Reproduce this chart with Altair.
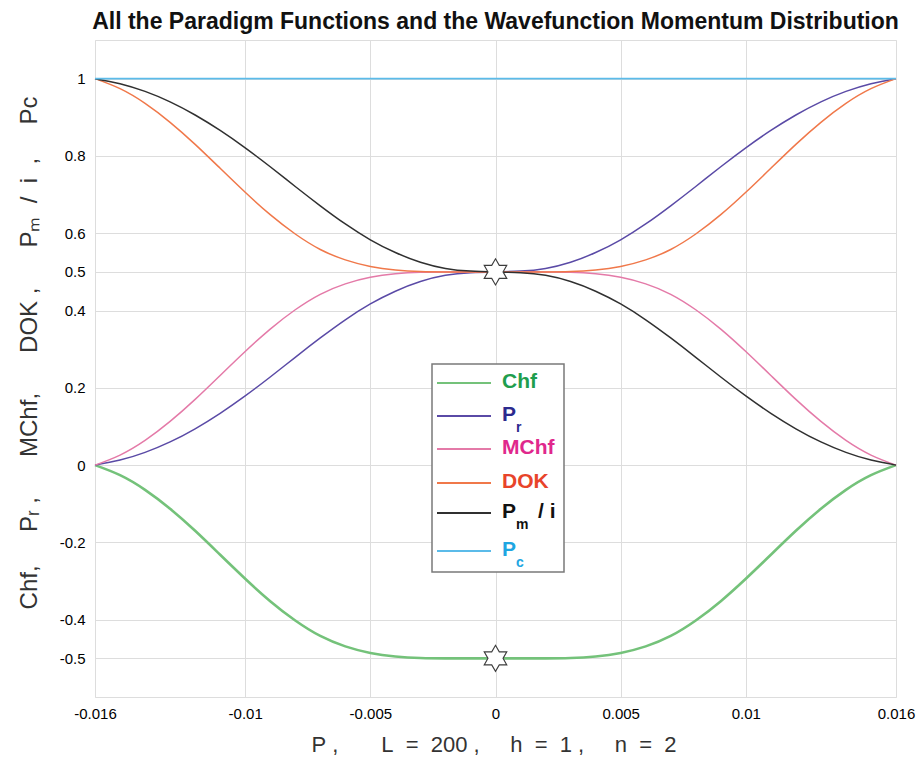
import altair as alt
import pandas as pd

# ---------------- data ----------------
p = [-0.016, -0.015, -0.014, -0.013, -0.012, -0.011, -0.010, -0.009, -0.008,
     -0.007, -0.006, -0.005, -0.004, -0.003, -0.002, -0.001, 0.0,
     0.001, 0.002, 0.003, 0.004, 0.005, 0.006, 0.007, 0.008,
     0.009, 0.010, 0.011, 0.012, 0.013, 0.014, 0.015, 0.016]

Pr = [0.0, 0.013, 0.033, 0.060, 0.094, 0.134, 0.179, 0.228, 0.279,
      0.329, 0.376, 0.417, 0.450, 0.475, 0.491, 0.498, 0.5,
      0.502, 0.509, 0.525, 0.550, 0.583, 0.624, 0.671, 0.721,
      0.772, 0.821, 0.866, 0.906, 0.940, 0.967, 0.987, 1.0]

Pm_i = [1.0, 0.987, 0.967, 0.940, 0.906, 0.866, 0.821, 0.772, 0.721,
        0.671, 0.624, 0.583, 0.550, 0.525, 0.509, 0.502, 0.5,
        0.498, 0.491, 0.475, 0.450, 0.417, 0.376, 0.329, 0.279,
        0.228, 0.179, 0.134, 0.094, 0.060, 0.033, 0.013, 0.0]

MChf = [0.0, 0.026, 0.064, 0.113, 0.170, 0.232, 0.294, 0.352, 0.402,
        0.442, 0.469, 0.486, 0.495, 0.499, 0.5, 0.5, 0.5,
        0.5, 0.5, 0.499, 0.495, 0.486, 0.469, 0.442, 0.402,
        0.352, 0.294, 0.232, 0.170, 0.113, 0.064, 0.026, 0.0]

Chf = [0.0, -0.026, -0.064, -0.113, -0.170, -0.232, -0.294, -0.352, -0.402,
       -0.442, -0.469, -0.486, -0.495, -0.499, -0.5, -0.5, -0.5,
       -0.5, -0.5, -0.499, -0.495, -0.486, -0.469, -0.442, -0.402,
       -0.352, -0.294, -0.232, -0.170, -0.113, -0.064, -0.026, 0.0]

DOK = [1.0, 0.974, 0.936, 0.887, 0.830, 0.768, 0.706, 0.648, 0.598,
       0.558, 0.531, 0.514, 0.505, 0.501, 0.5, 0.5, 0.5,
       0.5, 0.5, 0.501, 0.505, 0.514, 0.531, 0.558, 0.598,
       0.648, 0.706, 0.768, 0.830, 0.887, 0.936, 0.974, 1.0]

Pc = [1.0, 1.0, 1.0, 1.0, 1.0, 1.0, 1.0, 1.0, 1.0,
      1.0, 1.0, 1.0, 1.0, 1.0, 1.0, 1.0, 1.0,
      1.0, 1.0, 1.0, 1.0, 1.0, 1.0, 1.0, 1.0,
      1.0, 1.0, 1.0, 1.0, 1.0, 1.0, 1.0, 1.0]

star_p = [0.0, 0.0]
star_v = [0.5, -0.5]

x_ticks = [-0.016, -0.01, -0.005, 0, 0.005, 0.01, 0.016]
y_ticks = [-0.5, -0.4, -0.2, 0, 0.2, 0.4, 0.5, 0.6, 0.8, 1]

series_names = ["Chf", "Pr", "MChf", "DOK", "Pm_i", "Pc"]
series_vals = [Chf, Pr, MChf, DOK, Pm_i, Pc]
line_colors = ["#74c27a", "#5a4aa6", "#e47aa8", "#f0784a", "#303030", "#5bbbe9"]
line_widths = [2.6, 1.5, 1.5, 1.5, 1.5, 1.6]

rows = []
for name, vals in zip(series_names, series_vals):
    for pp, vv in zip(p, vals):
        rows.append({"p": pp, "v": vv, "s": name})
df = pd.DataFrame(rows)
stars = pd.DataFrame({"p": star_p, "v": star_v})
one = pd.DataFrame({"k": [0]})

FONT = "Liberation Sans, Arial, Helvetica, sans-serif"
NB = "\u00a0"

TITLE = "All the Paradigm Functions and the Wavefunction Momentum Distribution"
X_TITLE = ("P ," + NB * 7 + "L  =  200 ," + NB * 5 + "h  =  1 ," + NB * 5 + "n  =  2").replace(" ", NB)
Y_TITLE = ("Chf," + NB * 5 + "P\u1d63 ," + NB * 6 + "MChf," + NB * 6 + "DOK ," + NB * 6
           + "P\u2098  /  i  ," + NB * 5 + "Pc").replace(" ", NB)

lab_expr = "(datum.value < 0 ? '-' : '') + format(abs(datum.value), '~g')"

x_enc = alt.X("p:Q",
              scale=alt.Scale(domain=[-0.016, 0.016], nice=False, zero=False),
              axis=alt.Axis(values=x_ticks, labelExpr=lab_expr, title=None,
                            labelPadding=9, labelFontSize=15,
                            ticks=False, domain=False, grid=True, labelFlush=False))
y_enc = alt.Y("v:Q",
              scale=alt.Scale(domain=[-0.6, 1.1], nice=False, zero=False),
              axis=alt.Axis(values=y_ticks, labelExpr=lab_expr, title=None,
                            labelPadding=10, labelFontSize=15,
                            ticks=False, domain=False, grid=True))

layers = []
for name, col, w in zip(series_names, line_colors, line_widths):
    layers.append(
        alt.Chart(df).mark_line(color=col, strokeWidth=w, interpolate="natural")
        .encode(x=x_enc, y=y_enc)
        .transform_filter(alt.datum.s == name)
    )

hexagram = ("M0,-1L0.2887,-0.5L0.866,-0.5L0.5774,0L0.866,0.5L0.2887,0.5"
            "L0,1L-0.2887,0.5L-0.866,0.5L-0.5774,0L-0.866,-0.5L-0.2887,-0.5Z")
layers.append(
    alt.Chart(stars).mark_point(shape=hexagram, size=680, filled=True, fill="white",
                                stroke="#3c3c3c", strokeWidth=1.1, opacity=1)
    .encode(x=x_enc, y=y_enc)
)

# ---------------- titles as text marks ----------------
layers.append(
    alt.Chart(one).mark_text(align="center", baseline="alphabetic", font=FONT,
                             fontSize=23, fontWeight="bold", color="#111111")
    .encode(x=alt.value(400.5), y=alt.value(-11), text=alt.value(TITLE))
)
layers.append(
    alt.Chart(one).mark_text(align="center", baseline="middle", font=FONT,
                             fontSize=22, color="#333333")
    .encode(x=alt.value(399), y=alt.value(705), text=alt.value(X_TITLE))
)
layers.append(
    alt.Chart(one).mark_text(align="center", baseline="middle", font=FONT,
                             fontSize=24, color="#333333", angle=270)
    .encode(x=alt.value(-65), y=alt.value(313), text=alt.value(Y_TITLE))
)

# ---------------- legend (drawn inside the plot) ----------------
LX0, LX1, LY0, LY1 = 337, 469, 324, 532
layers.append(
    alt.Chart(one).mark_rect(fill="white", stroke="#7a7a7a", strokeWidth=1.5)
    .encode(x=alt.value(LX0), x2=alt.value(LX1), y=alt.value(LY0), y2=alt.value(LY1))
)
leg_main = ["Chf", "P", "MChf", "DOK", "P", "P"]
leg_sub = ["", "r", "", "", "m", "c"]
leg_suffix = ["", "", "", "", "/ i", ""]
leg_text_colors = ["#1f9e4e", "#2c2a8e", "#e0288c", "#e8442a", "#111111", "#1ea6e2"]
row_y = [343, 376, 409, 443, 473, 511]
for i in range(6):
    ry = row_y[i]
    layers.append(
        alt.Chart(one).mark_rule(color=line_colors[i], strokeWidth=2.2)
        .encode(x=alt.value(342), x2=alt.value(396), y=alt.value(ry))
    )
    layers.append(
        alt.Chart(one).mark_text(align="left", baseline="middle", font=FONT,
                                 fontSize=21, fontWeight="bold", color=leg_text_colors[i])
        .encode(x=alt.value(407), y=alt.value(ry - 1), text=alt.value(leg_main[i]))
    )
    if leg_sub[i]:
        layers.append(
            alt.Chart(one).mark_text(align="left", baseline="middle", font=FONT,
                                     fontSize=14, fontWeight="bold", color=leg_text_colors[i])
            .encode(x=alt.value(421), y=alt.value(ry + 12), text=alt.value(leg_sub[i]))
        )
    if leg_suffix[i]:
        layers.append(
            alt.Chart(one).mark_text(align="left", baseline="middle", font=FONT,
                                     fontSize=21, fontWeight="bold", color=leg_text_colors[i])
            .encode(x=alt.value(443), y=alt.value(ry - 1), text=alt.value(leg_suffix[i]))
        )

chart = alt.layer(*layers).properties(
    width=801, height=657,
    autosize=alt.AutoSizeParams(type="none"),
    padding={"left": 95, "top": 40, "right": 25, "bottom": 66},
).configure_view(
    stroke="#4a4a4a", strokeWidth=1.2
).configure_axis(
    labelFont=FONT, labelColor="#2a2a2a",
    gridColor="#e3e3e3", gridWidth=1
).configure(background="white")

chart.save("out.html", embed_options={"renderer": "svg", "actions": False})
